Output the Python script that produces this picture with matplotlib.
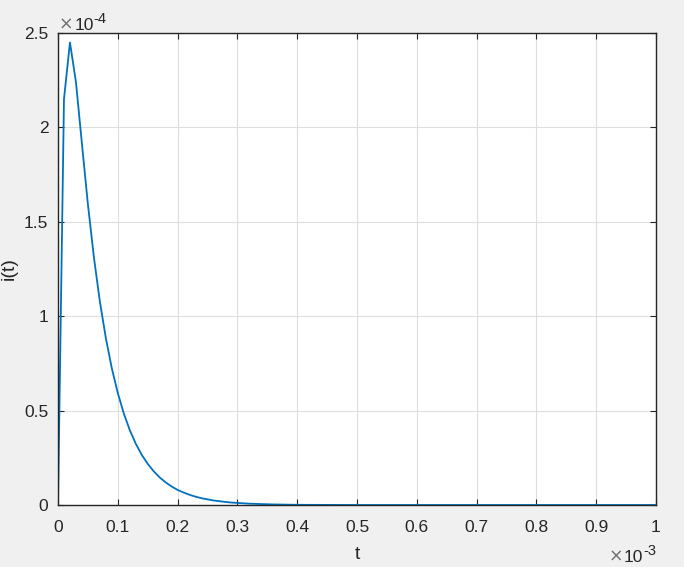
import matplotlib
matplotlib.use('Agg')
import matplotlib.pyplot as plt
from matplotlib.ticker import FuncFormatter
import numpy as np

#-----------------------------------------------------------------------------#
# data (t in units of 1e-3, i in units of 1e-4)

t_ms = [0.00, 0.01, 0.02, 0.03, 0.04, 0.05, 0.06, 0.07, 0.08, 0.09,
        0.10, 0.11, 0.12, 0.13, 0.14, 0.15, 0.16, 0.17, 0.18, 0.19,
        0.20, 0.21, 0.22, 0.23, 0.24, 0.25, 0.26, 0.27, 0.28, 0.29,
        0.30, 0.32, 0.34, 0.36, 0.38, 0.40, 0.45, 0.50, 0.60, 0.80, 1.00]
i_val = [0.000, 2.150, 2.450, 2.240, 1.914, 1.593, 1.313, 1.078, 0.884, 0.724,
         0.593, 0.485, 0.397, 0.325, 0.266, 0.218, 0.179, 0.146, 0.120, 0.098,
         0.080, 0.066, 0.054, 0.044, 0.036, 0.030, 0.024, 0.020, 0.016, 0.013,
         0.011, 0.007, 0.005, 0.003, 0.002, 0.001, 0.0005, 0.0, 0.0, 0.0, 0.0]

x_ticks = [0, 0.1, 0.2, 0.3, 0.4, 0.5, 0.6, 0.7, 0.8, 0.9, 1]
y_ticks = [0, 0.5, 1, 1.5, 2, 2.5]

#-----------------------------------------------------------------------------#
# style

BG = '#f0f0f0'
AX = '#262626'
LINE = '#0072bd'
GRID = '#dedede'
FS = 12.5

plt.rcParams['font.family'] = ['Liberation Sans', 'DejaVu Sans']

W, H = 684, 567
fig = plt.figure(figsize=(W / 100, H / 100), dpi=100, facecolor=BG)
ax = fig.add_axes([58 / W, 1 - 505 / H, (656 - 58) / W, (505 - 33) / H])

ax.plot(t_ms, i_val, color=LINE, lw=1.3)

ax.set_xlim(0, 1)
ax.set_ylim(0, 2.5)
ax.set_xticks(x_ticks)
ax.set_yticks(y_ticks)
fmt = FuncFormatter(lambda v, p: '%g' % v)
ax.xaxis.set_major_formatter(fmt)
ax.yaxis.set_major_formatter(fmt)

ax.grid(True, color=GRID, lw=0.8)
ax.set_axisbelow(True)
ax.tick_params(direction='in', length=4, width=0.8, colors=AX,
               labelsize=FS, top=True, right=True)
ax.tick_params(axis='x', pad=11)
ax.tick_params(axis='y', pad=7)
for s in ax.spines.values():
    s.set_color(AX)
    s.set_linewidth(1.0)

ax.set_xlabel('t', fontsize=14, color=AX, labelpad=8)
fig.text(9 / W, 1 - 269 / H, 'i(t)', rotation=90, fontsize=14, color=AX,
         ha='center', va='center')

# exponent labels: "x10" plus a raised "-n"
def exponent(x_pos, y_base, power, align='right'):
    times_kw = dict(fontsize=FS, color='#707070', va='baseline',
                    family='DejaVu Sans')
    if align == 'right':
        t_pow = fig.text(x_pos / W, 1 - (y_base - 7) / H, power,
                         fontsize=10.5, color=AX, ha='right', va='baseline')
        fig.canvas.draw()
        bb = t_pow.get_window_extent()
        t10 = fig.text(bb.x0 / W, 1 - y_base / H, '10', fontsize=FS, color=AX,
                       ha='right', va='baseline')
        bb = t10.get_window_extent()
        fig.text(bb.x0 / W - 0.001, 1 - y_base / H, '\u00d7', ha='right',
                 **times_kw)
    else:
        tx = fig.text(x_pos / W, 1 - y_base / H, '\u00d7', ha='left',
                      **times_kw)
        fig.canvas.draw()
        bb = tx.get_window_extent()
        t10 = fig.text(bb.x1 / W + 0.001, 1 - y_base / H, '10', fontsize=FS,
                       color=AX, ha='left', va='baseline')
        bb = t10.get_window_extent()
        fig.text(bb.x1 / W, 1 - (y_base - 7) / H, power, fontsize=10.5,
                 color=AX, ha='left', va='baseline')

exponent(59, 30, '-4', align='left')
exponent(656, 562, '-3', align='right')

fig.savefig('out.png', dpi=100, facecolor=BG)
